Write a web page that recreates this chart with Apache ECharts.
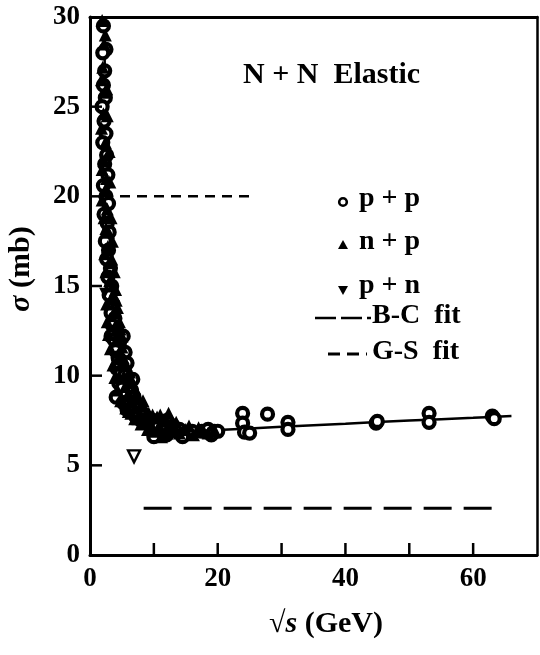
<!DOCTYPE html>
<html>
<head>
<meta charset="utf-8">
<script src="https://cdn.jsdelivr.net/npm/echarts@6/dist/echarts.min.js"></script>
<style>
html,body{margin:0;padding:0;background:#fff;}
#chart{width:540px;height:655px;}
</style>
</head>
<body>
<div id="chart"></div>
<script>
// ---- data ----
var xTicks = [0, 20, 40, 60];            // labelled x ticks
var yTicks = [0, 5, 10, 15, 20, 25, 30]; // labelled y ticks
var xTickMarks = [10, 20, 30, 40, 50, 60];
var yTickMarks = [5, 10, 15, 20, 25];

// p + p (open circles)
var ppX = [2.1,2.5,2.0,2.3,2.1,2.4,1.9,2.2,2.5,2.0,2.6,2.3,2.8,2.1,2.5,2.9,2.2,2.7,3.0,2.4,2.9,2.6,3.2,2.8,3.4,3.0,3.6,3.3,3.9,3.5,4.2,3.3,5.2,3.8,4.6,4.0,5.5,4.4,5.0,5.8,4.2,4.8,5.4,6.7,4.5,6.0,5.0,6.5,4.1,5.6,6.9,5.2,6.2,7.5,5.8,6.8,8.2,7.2,9.0,8.0,10.0,11.0,12.0,9.5,10.5,13.0,11.5,10.0,12.0,14.0,15.0,16.0,14.5,17.5,18.5,19.5,19.0,20.0,
           23.9,23.9,24.2,25.0,27.8,31.0,31.0,44.8,45.0,53.1,53.1,63.0,63.3];
var ppY = [29.5,28.2,28.0,27.0,26.2,25.5,25.0,24.2,23.5,23.0,22.3,21.8,21.2,20.6,20.0,19.6,19.0,18.5,18.0,17.5,17.0,16.5,16.0,15.5,15.0,14.5,14.0,13.5,13.2,12.8,12.5,12.2,12.2,12.0,11.8,11.4,11.3,11.0,10.8,10.7,10.4,10.2,10.0,9.8,9.6,9.5,9.3,9.2,8.8,8.9,8.8,8.5,8.4,8.3,8.1,8.0,7.9,7.7,7.6,7.5,7.5,7.4,7.5,7.2,7.1,7.2,6.9,6.6,6.7,7.0,6.8,6.9,6.6,6.9,7.0,6.9,6.7,6.9,
           7.9,7.35,6.85,6.8,7.85,7.4,7.0,7.35,7.45,7.9,7.4,7.75,7.6];

// n + p (filled up-triangles)
var npX = [2.2,2.0,2.3,2.1,2.4,2.2,2.6,2.3,2.7,2.5,2.8,3.0,3.1,3.3,3.7,4.0,4.3,4.6,4.9,5.3,5.5,5.9,6.4,7.0,7.8,8.6,9.4,10.8,12.5,13.5,
           1.9,2.4,1.8,2.6,1.8,2.7,1.9,3.0,1.9,3.1,2.2,3.3,2.3,3.5,2.5,3.8,2.6,4.0,2.7,4.3,2.9,4.7,3.2,5.0,3.6,6.2,3.9,6.6,4.3,7.0,4.8,7.6,5.6,8.4,6.4,9.2,7.5,10.5,11.8,13.5,15.5,17.0,18.5,16.2,11.2,12.8,
           6.0,7.0,8.0,9.0,10.0,11.0,12.0,13.0,14.0,9.8,11.0,12.3,8.3,7.2,6.3,5.7,5.0,4.6,3.4,4.1,2.9,3.6,4.4,5.2,6.0,15.0,17.8,19.6];
var npY = [28.5,27.2,25.8,24.6,23.0,22.0,21.0,20.3,19.3,18.2,17.2,16.3,15.3,14.3,13.5,12.8,12.0,11.3,10.6,10.0,9.4,8.9,8.6,8.2,7.9,7.6,7.4,7.2,7.1,6.9,
           29.8,29.0,26.5,26.0,23.8,24.5,21.5,22.5,19.8,20.8,18.8,18.8,16.8,17.5,15.8,15.8,14.0,14.8,13.0,13.8,12.3,12.6,11.5,11.6,10.6,10.2,9.9,9.6,9.2,9.3,8.6,8.7,8.2,8.3,7.9,7.9,7.6,7.7,7.6,7.4,7.2,7.1,6.8,6.7,6.6,6.9,
           8.0,7.6,7.3,7.0,6.9,7.0,6.8,7.3,6.8,7.8,7.8,7.9,8.6,9.0,9.9,10.6,12.2,13.0,16.5,14.2,18.0,15.0,12.4,11.0,9.0,7.0,6.9,6.9];

// p + n (filled down-triangles) and one open down-triangle
var pnX = [2.3, 4.5];
var pnY = [14.6, 11.0];
var pnOpenX = [6.9];
var pnOpenY = [5.5];

// solid curve through the data
var fitX = [2.15,2.4,2.7,3.0,3.4,3.9,4.5,5.2,6.0,7.0,8.2,9.6,11.5,14,17,20,30,40,50,60,66];
var fitY = [30,26,22,19,16,13.6,11.8,10.4,9.3,8.5,7.9,7.5,7.2,7.0,6.95,6.97,7.15,7.32,7.5,7.65,7.75];

// G-S fit (short dashes) and B-C fit (long dashes)
var gsX = [4.7, 25];
var gsY = [20, 20];
var bcX = [8.4, 63.6];
var bcY = [2.6, 2.6];

function zip(a, b) { return a.map(function (v, i) { return [v, b[i]]; }); }

var FONT = '"Liberation Serif", "DejaVu Serif", serif';
var chart = echarts.init(document.getElementById('chart'), null, {renderer: 'canvas'});

var TICK_LEN = 12;
var lineStyle = {color: '#000', width: 3};

var option = {
  animation: false,
  backgroundColor: '#fff',
  grid: {left: 90, right: 2, top: 17, bottom: 100, containLabel: false},
  xAxis: [{
    type: 'value', min: 0, max: 70, interval: 10, position: 'bottom',
    axisLine: {show: true, onZero: false, lineStyle: lineStyle},
    axisTick: {show: false},
    splitLine: {show: false},
    axisLabel: {
      margin: 11, color: '#000', fontFamily: FONT, fontWeight: 'bold', fontSize: 27,
      formatter: function (v) { return xTicks.indexOf(v) >= 0 ? String(v) : ''; }
    }
  }, {
    type: 'value', min: 0, max: 70, interval: 10, position: 'top',
    axisLine: {show: true, onZero: false, lineStyle: lineStyle},
    axisTick: {show: false}, axisLabel: {show: false}, splitLine: {show: false}
  }],
  yAxis: [{
    type: 'value', min: 0, max: 30, interval: 5, position: 'left',
    axisLine: {show: true, onZero: false, lineStyle: lineStyle},
    axisTick: {show: false},
    splitLine: {show: false},
    axisLabel: {
      margin: 10, color: '#000', fontFamily: FONT, fontWeight: 'bold', fontSize: 27,
      formatter: function (v) { return yTicks.indexOf(v) >= 0 ? String(v) : ''; }
    }
  }, {
    type: 'value', min: 0, max: 30, interval: 5, position: 'right',
    axisLine: {show: true, onZero: false, lineStyle: {color: '#000', width: 2.5}},
    axisTick: {show: false}, axisLabel: {show: false}, splitLine: {show: false}
  }],
  series: [
    {
      name: 'fit', type: 'line', data: zip(fitX, fitY), smooth: 0.4, symbol: 'none',
      lineStyle: {color: '#000', width: 2.5}, z: 2
    },
    {
      name: 'G-S fit', type: 'line', data: zip(gsX, gsY), symbol: 'none',
      lineStyle: {color: '#000', width: 2.5, type: [10, 7]}, z: 2
    },
    {
      name: 'B-C fit', type: 'line', data: zip(bcX, bcY), symbol: 'none',
      lineStyle: {color: '#000', width: 3, type: [28, 12]}, z: 2
    },
    {
      name: 'p + p', type: 'scatter', data: zip(ppX, ppY), symbol: 'circle', symbolSize: 11,
      itemStyle: {color: '#fff', borderColor: '#000', borderWidth: 4.2, opacity: 1}, z: 3
    },
    {
      name: 'n + p', type: 'scatter', data: zip(npX, npY), symbol: 'triangle', symbolSize: 13,
      itemStyle: {color: '#000', opacity: 1}, z: 4
    },
    {
      name: 'p + n', type: 'scatter', data: zip(pnX, pnY), symbol: 'triangle', symbolRotate: 180, symbolSize: 11,
      itemStyle: {color: '#000', opacity: 1}, z: 4
    },
    {
      name: 'p + n (open)', type: 'scatter', data: zip(pnOpenX, pnOpenY), symbol: 'triangle', symbolRotate: 180, symbolSize: 12,
      itemStyle: {color: '#fff', borderColor: '#000', borderWidth: 2.4, opacity: 1}, z: 4
    },
    {
      name: 'x tick marks', type: 'scatter', silent: true, clip: false, z: 6,
      data: xTickMarks.map(function (v) { return [v, 0]; }),
      symbol: 'rect', symbolSize: [2.5, TICK_LEN], symbolOffset: [0, -TICK_LEN / 2],
      itemStyle: {color: '#000', opacity: 1}
    },
    {
      name: 'y tick marks', type: 'scatter', silent: true, clip: false, z: 6,
      data: yTickMarks.map(function (v) { return [0, v]; }),
      symbol: 'rect', symbolSize: [TICK_LEN, 2.5], symbolOffset: [TICK_LEN / 2, 0],
      itemStyle: {color: '#000', opacity: 1}
    }
  ],
  graphic: [
    {type: 'text', left: 243, top: 60, z: 10,
      style: {text: 'N + N  Elastic', fill: '#000', font: 'bold 30px ' + FONT}},
    {type: 'circle', shape: {cx: 343, cy: 202, r: 3.8}, z: 10,
      style: {fill: '#fff', stroke: '#000', lineWidth: 2.6}},
    {type: 'text', left: 359, top: 185, z: 10,
      style: {text: 'p + p', fill: '#000', font: 'bold 28px ' + FONT}},
    {type: 'polygon', shape: {points: [[338, 249], [348, 249], [343, 240]]}, z: 10,
      style: {fill: '#000'}},
    {type: 'text', left: 359, top: 228, z: 10,
      style: {text: 'n + p', fill: '#000', font: 'bold 28px ' + FONT}},
    {type: 'polygon', shape: {points: [[338, 286], [348, 286], [343, 295]]}, z: 10,
      style: {fill: '#000'}},
    {type: 'text', left: 359, top: 272, z: 10,
      style: {text: 'p + n', fill: '#000', font: 'bold 28px ' + FONT}},
    {type: 'line', shape: {x1: 315, y1: 318, x2: 371, y2: 318}, z: 10,
      style: {stroke: '#000', lineWidth: 2.5, lineDash: [21, 5]}},
    {type: 'text', left: 372, top: 302, z: 10,
      style: {text: 'B-C  fit', fill: '#000', font: 'bold 28px ' + FONT}},
    {type: 'line', shape: {x1: 328, y1: 354, x2: 367, y2: 354}, z: 10,
      style: {stroke: '#000', lineWidth: 3, lineDash: [12, 7]}},
    {type: 'text', left: 372, top: 338, z: 10,
      style: {text: 'G-S  fit', fill: '#000', font: 'bold 28px ' + FONT}},
    {type: 'text', x: 21, y: 269, rotation: Math.PI / 2, z: 10,
      style: {text: '{i|σ} (mb)', fill: '#000', font: 'bold 30px ' + FONT, align: 'center', verticalAlign: 'middle',
        rich: {i: {fontStyle: 'italic', fontWeight: 'bold', fontSize: 30, fontFamily: FONT}}}},
    {type: 'text', x: 326, y: 624, z: 10,
      style: {text: '√{i|s} (GeV)', fill: '#000', font: 'bold 30px ' + FONT, align: 'center', verticalAlign: 'middle',
        rich: {i: {fontStyle: 'italic', fontWeight: 'bold', fontSize: 30, fontFamily: FONT}}}}
  ]
};
chart.setOption(option);
</script>
</body>
</html>
